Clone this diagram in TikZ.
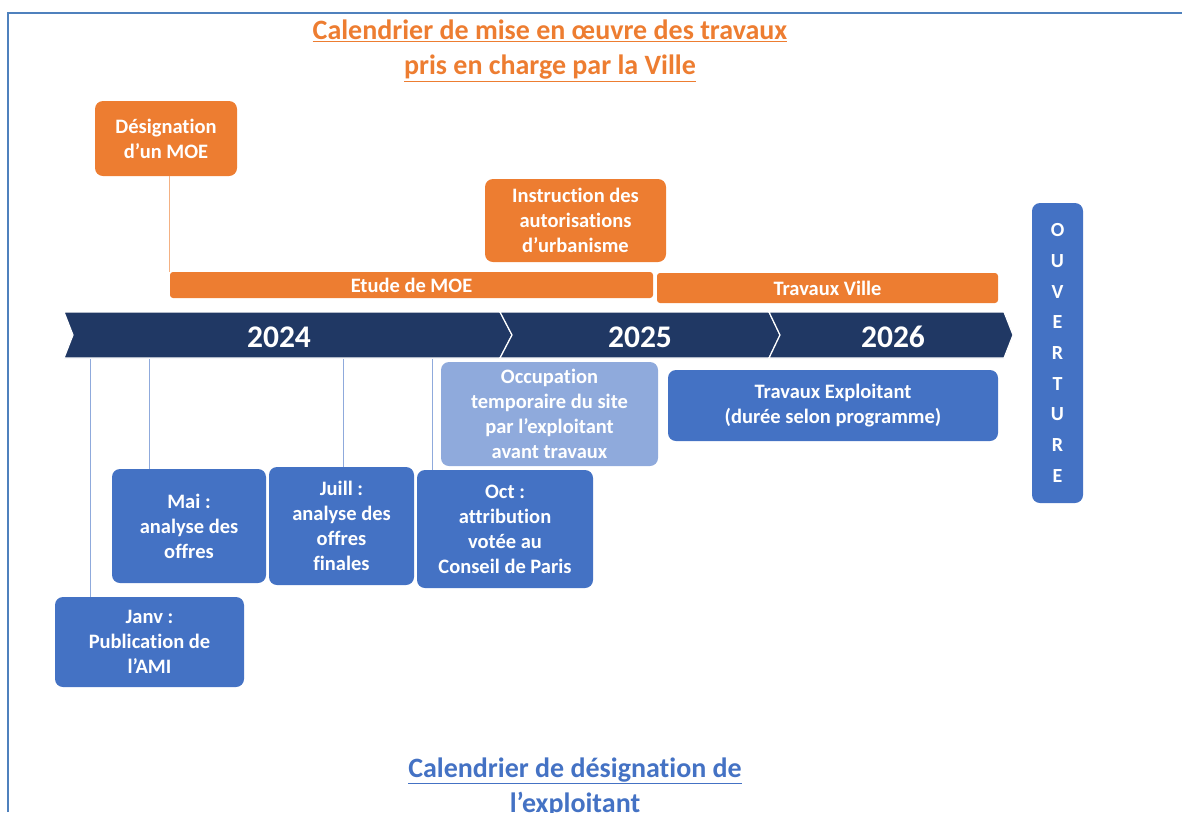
\documentclass[tikz,border=0pt]{standalone}
\usepackage{fontspec}
\setmainfont{Carlito}[Ligatures=NoCommon]
\definecolor{orng}{HTML}{ED7D31}
\definecolor{navy}{HTML}{203864}
\definecolor{blu}{HTML}{4472C4}
\definecolor{lblu}{HTML}{8FAADC}
\definecolor{frm}{HTML}{4F81BD}
\definecolor{lorng}{HTML}{F4B183}
\tikzset{
  box/.style={rounded corners=8pt, text=white, align=center, inner sep=0pt,
    font=\bfseries\fontsize{20.5}{25}\selectfont},
  obox/.style={box, fill=orng},
  bbox/.style={box, fill=blu},
  lbox/.style={box, fill=lblu},
  bar/.style={rounded corners=3pt, fill=orng, text=white, inner sep=0pt,
    font=\bfseries\fontsize{20.5}{24}\selectfont},
  chev/.style={fill=navy, draw=white, line width=1.2pt},
  year/.style={text=white, font=\bfseries\fontsize{31.5}{34}\selectfont},
  vline/.style={draw=lblu, line width=0.8pt},
  oline/.style={draw=lorng, line width=0.8pt},
  ttl/.style={align=center, font=\bfseries\fontsize{28}{35}\selectfont},
}
\begin{document}
\begin{tikzpicture}[x=1pt,y=-1pt]
\useasboundingbox (0,0) rectangle (1182,812);
% frame
\draw[frm, line width=1.5pt] (8,812) -- (8,13) -- (1182,13);
% titles
\node[ttl, text=orng] (t1) at (550,51) {\underline{Calendrier de mise en œuvre des travaux}\\\underline{pris en charge par la Ville}};
\node[ttl, text=blu] (t2) at (575,788) {\underline{Calendrier de désignation de}\\\underline{l’exploitant}};
% timeline
\path[chev] (64,312) -- (500,312) -- (512,335) -- (500,358) -- (64,358) -- (73,335) -- cycle;
\path[chev] (500,312) -- (769,312) -- (780,335) -- (769,358) -- (500,358) -- (512,335) -- cycle;
\path[chev] (769,312) -- (1004,312) -- (1013,335) -- (1004,358) -- (769,358) -- (780,335) -- cycle;
\node[year] (y24) at (279,337) {2024};
\node[year] (y25) at (640,337) {2025};
\node[year] (y26) at (893,337) {2026};
% orange items
\node[obox, minimum width=142pt, minimum height=75pt] (des) at (166,138.5) {Désignation\\d’un MOE};
\node[obox, minimum width=181pt, minimum height=83pt] (instr) at (575.5,220.5) {Instruction des\\autorisations\\d’urbanisme};
\node[bar, minimum width=483pt, minimum height=26pt] (etude) at (411.5,285) {Etude de MOE};
\node[bar, minimum width=341pt, minimum height=30pt] (tville) at (827.5,288) {Travaux Ville};
\draw[oline] (des.south -| etude.west) -- (etude.north west);
% blue items
\node[lbox, minimum width=217pt, minimum height=104pt] (occ) at (549.5,414) {Occupation\\temporaire du site\\par l’exploitant\\avant travaux};
\node[bbox, minimum width=330pt, minimum height=71pt] (texp) at (833,405.5) {Travaux Exploitant\\(durée selon programme)};
\node[bbox, minimum width=51pt, minimum height=300pt, font=\bfseries\fontsize{20}{30.7}\selectfont] (ouv) at (1057.5,353) {O\\U\\V\\E\\R\\T\\U\\R\\E};
\node[bbox, minimum width=189pt, minimum height=90pt] (janv) at (149.5,642) {Janv :\\Publication de\\l’AMI};
\node[bbox, minimum width=154pt, minimum height=114pt] (mai) at (189,526) {Mai :\\analyse des\\offres};
\node[bbox, minimum width=145pt, minimum height=118pt] (juill) at (341.5,526) {Juill :\\analyse des\\offres\\finales};
\node[bbox, minimum width=176pt, minimum height=118pt] (oct) at (505,529) {Oct :\\attribution\\votée au\\Conseil de Paris};
% connectors from timeline
\coordinate (c1) at (90,359);
\coordinate (c2) at (149,359);
\coordinate (c3) at (343,359);
\coordinate (c4) at (432,359);
\draw[vline] (c1) -- (c1 |- janv.north);
\draw[vline] (c2) -- (c2 |- mai.north);
\draw[vline] (c3) -- (c3 |- juill.north);
\draw[vline] (c4) -- (c4 |- oct.north);
\end{tikzpicture}
\end{document}
